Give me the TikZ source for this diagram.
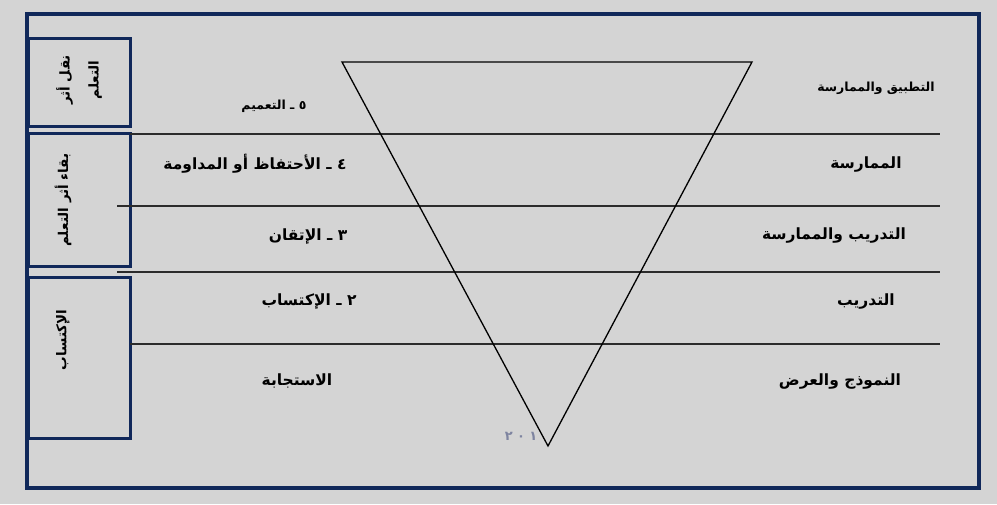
\documentclass[tikz,border=0pt]{standalone}
\usepackage{fontspec}
\usepackage{tikz}
\usetikzlibrary{positioning}
\TeXXeTstate=1
\newfontfamily\arabicfont[Script=Arabic]{DejaVu Sans}
\definecolor{Sheet}{HTML}{D4D4D4}
\definecolor{Frame}{HTML}{10285A}
\definecolor{Rule}{HTML}{2B2B2B}
\definecolor{Year}{HTML}{7E84A0}
\tikzset{
  outerframe/.style={draw=Frame,line width=3.5pt},
  stagebox/.style={draw=Frame,line width=3pt,anchor=north west,inner sep=0pt,minimum width=102pt},
  levelrule/.style={draw=Rule,line width=1.3pt},
  funnel/.style={draw=black,line width=1.3pt,line join=miter},
  stagelabel/.style={rotate=90,align=center,inner sep=0pt,
    font=\arabicfont\fontsize{13.5}{29}\selectfont\bfseries},
  steplabel/.style={inner sep=0pt,font=\arabicfont\fontsize{15.5}{18}\selectfont\bfseries},
  smalllabel/.style={inner sep=0pt,font=\arabicfont\fontsize{12.5}{15}\selectfont\bfseries},
}

\begin{document}
\begin{tikzpicture}[x=1pt,y=-1pt]
    \useasboundingbox[fill=Sheet] (0,0) rectangle (997,504);
    \draw[outerframe] (27,14) rectangle (979,488);

    % stages at the left
    \node[stagebox,minimum height=88pt] (transfer) at (27,37) {};
    \node[stagebox,minimum height=133pt] (retention) at (27,132) {};
    \node[stagebox,minimum height=161pt] (acquisition) at (27,276) {};
    \node[stagelabel] (transfertext) at (79,80) {\beginR نقل أثر\endR\\\beginR التعلم\endR};
    \node[stagelabel] (retentiontext) at (63,200) {\beginR بقاء أثر التعلم\endR};
    \node[stagelabel] (acquisitiontext) at (63,340) {\beginR الإكتساب\endR};

    % levels
    \draw[levelrule] (130,134) -- (940,134);
    \draw[levelrule] (117,206) -- (940,206);
    \draw[levelrule] (117,272) -- (940,272);
    \draw[levelrule] (130,344) -- (940,344);

    \draw[funnel] (342,62) -- (752,62) -- (548,446) -- cycle;

    \node[smalllabel] (generalize) at (274,106) {\beginR ٥ ـ التعميم\endR};
    \node[steplabel] (retain) at (255,164) {\beginR ٤ ـ الأحتفاظ أو المداومة\endR};
    \node[steplabel] (master) at (308,236) {\beginR ٣ ـ الإتقان\endR};
    \node[steplabel] (acquire) at (309,301) {\beginR ٢ ـ الإكتساب\endR};
    \node[steplabel] (respond) at (297,381) {\beginR الاستجابة\endR};

    \node[smalllabel] (applypractice) at (876,88) {\beginR التطبيق والممارسة\endR};
    \node[steplabel] (practice) at (866,164) {\beginR الممارسة\endR};
    \node[steplabel] (trainpractice) at (834,235) {\beginR التدريب والممارسة\endR};
    \node[steplabel] (train) at (866,301) {\beginR التدريب\endR};
    \node[steplabel] (modelshow) at (840,381) {\beginR النموذج والعرض\endR};

    \node[inner sep=0pt,text=Year,font=\arabicfont\fontsize{13}{15}\selectfont\bfseries] (year) at (521,436) {٢\,\,٠\,\,١};
  \end{tikzpicture}
\end{document}
